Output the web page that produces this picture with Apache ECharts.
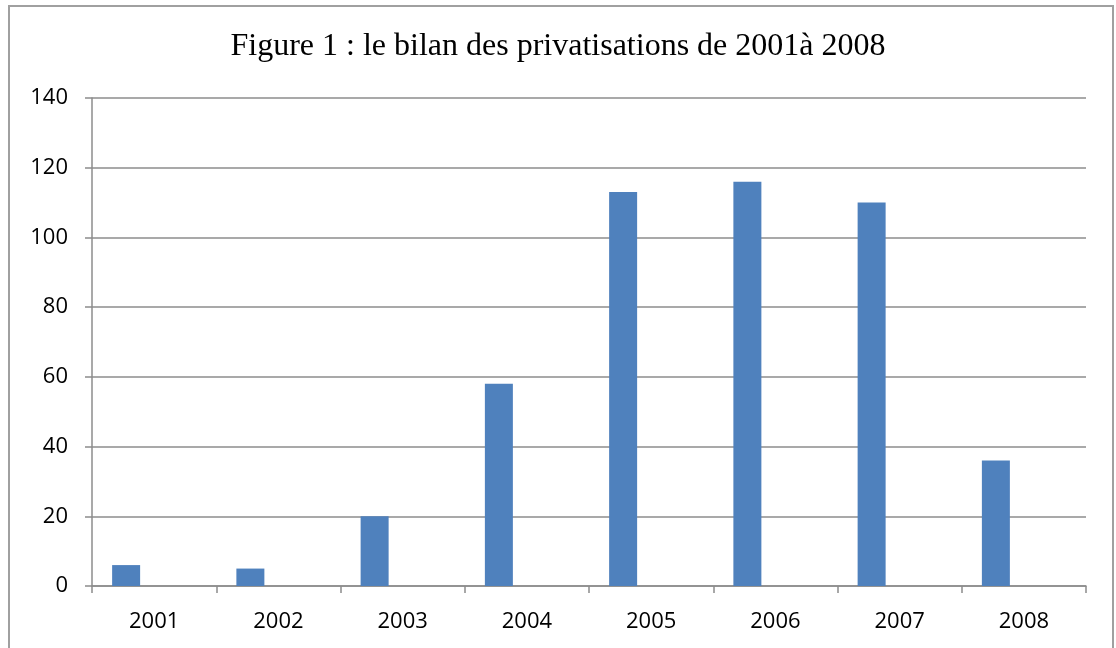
<!DOCTYPE html>
<html><head><meta charset="utf-8">
<script src="https://cdn.jsdelivr.net/npm/echarts@6/dist/echarts.min.js"></script>
<style>html,body{margin:0;padding:0;background:#fff}#c{width:1116px;height:648px}</style>
</head><body><div id="c"></div>
<script>
const titleText = "Figure 1 : le bilan des privatisations de 2001à 2008";
const categories = ["2001","2002","2003","2004","2005","2006","2007","2008"];
const values = [6,5,20,58,113,116,110,36];
const emptySeriesA = [null,null,null,null,null,null,null,null];
const emptySeriesB = [null,null,null,null,null,null,null,null];
const yTicks = [0,20,40,60,80,100,120,140];

const chart = echarts.init(document.getElementById('c'), null, {renderer:'canvas'});
const gray = '#8c8c8c';
const labelFont = {fontFamily:'Open Sans', fontSize:22, color:'#000'};
chart.setOption({
  animation:false,
  backgroundColor:'#fff',
  title:{text:titleText, left:'center', top:26,
    textStyle:{fontFamily:'Liberation Serif', fontSize:32, fontWeight:'normal', color:'#000'}},
  graphic:[{type:'rect', shape:{x:9, y:6, width:1104, height:700},
    style:{fill:'none', stroke:'#a0a0a0', lineWidth:2}, silent:true}],
  grid:{left:92, right:30, top:98, bottom:62, containLabel:false},
  xAxis:{type:'category', data:categories,
    axisLine:{show:true, lineStyle:{color:gray, width:1.5}},
    axisTick:{show:true, length:7, lineStyle:{color:gray, width:1.5}},
    axisLabel:Object.assign({margin:25}, labelFont)},
  yAxis:{type:'value', min:yTicks[0], max:yTicks[yTicks.length-1], interval:20,
    axisLine:{show:true, lineStyle:{color:gray, width:1.5}},
    axisTick:{show:true, length:7, lineStyle:{color:gray, width:1.5}},
    splitLine:{show:true, lineStyle:{color:gray, width:1.5}},
    axisLabel:Object.assign({margin:24}, labelFont)},
  series:[
    {type:'bar', data:values, barWidth:28, barGap:'0%', itemStyle:{color:'#4F81BD'}},
    {type:'bar', data:emptySeriesA, barWidth:28, barGap:'0%'},
    {type:'bar', data:emptySeriesB, barWidth:28, barGap:'0%'}
  ]
});
</script></body></html>
